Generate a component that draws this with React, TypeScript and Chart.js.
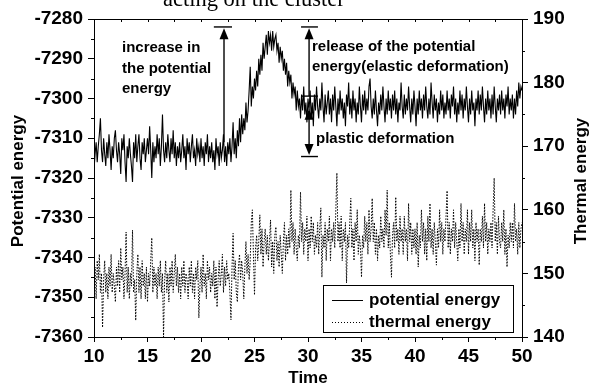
import React, { useEffect, useRef } from 'react';
import { Chart, registerables } from 'chart.js';
Chart.register(...registerables);

const FONT = '"Liberation Sans", Arial, Helvetica, sans-serif';

// sampling grid of the time axis
const T_START = 10;
const T_STEP = 0.1;

// Potential energy (left axis), one value every 0.1 time units from 10 to 50
const POTENTIAL = [
  -7318, -7314, -7311, -7316, -7312, -7309, -7305, -7313, -7316, -7310,
  -7314, -7317, -7311, -7315, -7309, -7313, -7318, -7312, -7315, -7310,
  -7308, -7313, -7316, -7311, -7314, -7319, -7310, -7313, -7309, -7316,
  -7321, -7312, -7315, -7310, -7314, -7317, -7321, -7311, -7315, -7309,
  -7316, -7312, -7309, -7315, -7318, -7311, -7314, -7310, -7316, -7313,
  -7310, -7314, -7307, -7313, -7320, -7311, -7316, -7312, -7315, -7309,
  -7314, -7310, -7317, -7312, -7304, -7313, -7316, -7311, -7315, -7309,
  -7313, -7316, -7310, -7314, -7308, -7315, -7311, -7317, -7312, -7315,
  -7311, -7316, -7313, -7309, -7315, -7312, -7318, -7310, -7314, -7311,
  -7316, -7312, -7309, -7315, -7313, -7317, -7310, -7314, -7312, -7316,
  -7310, -7315, -7312, -7317, -7311, -7314, -7309, -7316, -7312, -7315,
  -7311, -7316, -7313, -7318, -7310, -7314, -7312, -7317, -7311, -7315,
  -7313, -7309, -7316, -7312, -7317, -7311, -7314, -7310, -7316, -7312,
  -7306, -7314, -7310, -7315, -7308, -7312, -7305, -7311, -7304, -7309,
  -7305, -7308, -7301, -7306, -7303, -7298, -7292, -7302, -7297, -7300,
  -7295, -7298, -7293, -7297, -7290, -7294, -7289, -7293, -7286, -7290,
  -7287, -7284, -7289, -7283, -7286, -7284, -7288, -7283, -7287, -7285,
  -7284, -7288, -7286, -7291, -7287, -7290, -7288, -7293, -7290, -7294,
  -7291, -7297, -7293, -7296, -7294, -7300, -7296, -7299, -7297, -7303,
  -7298, -7302, -7300, -7305, -7299, -7303, -7297, -7304, -7301, -7306,
  -7300, -7303, -7298, -7305, -7301, -7307, -7299, -7303, -7297, -7302,
  -7305, -7300, -7303, -7296, -7302, -7306, -7299, -7304, -7301, -7298,
  -7304, -7300, -7306, -7299, -7303, -7297, -7302, -7307, -7300, -7304,
  -7298, -7303, -7300, -7305, -7301, -7307, -7299, -7302, -7296, -7304,
  -7300, -7305, -7298, -7303, -7300, -7306, -7301, -7304, -7297, -7302,
  -7306, -7299, -7303, -7298, -7304, -7300, -7303, -7297, -7295, -7302,
  -7305, -7300, -7304, -7298, -7303, -7307, -7301, -7304, -7299, -7303,
  -7297, -7302, -7306, -7300, -7304, -7298, -7303, -7300, -7305, -7299,
  -7303, -7298, -7304, -7300, -7306, -7301, -7303, -7296, -7302, -7305,
  -7299, -7304, -7300, -7303, -7297, -7302, -7306, -7300, -7304, -7298,
  -7302, -7307, -7300, -7304, -7298, -7303, -7300, -7305, -7299, -7303,
  -7297, -7302, -7305, -7300, -7304, -7296, -7301, -7305, -7299, -7303,
  -7300, -7306, -7301, -7304, -7298, -7303, -7299, -7305, -7301, -7304,
  -7298, -7303, -7300, -7305, -7299, -7302, -7297, -7304, -7300, -7306,
  -7301, -7304, -7298, -7303, -7299, -7305, -7300, -7303, -7297, -7302,
  -7306, -7300, -7304, -7298, -7303, -7301, -7307, -7300, -7303, -7298,
  -7304, -7299, -7303, -7297, -7302, -7306, -7300, -7304, -7298, -7303,
  -7300, -7305, -7299, -7304, -7297, -7302, -7306, -7300, -7303, -7299,
  -7304, -7298, -7303, -7300, -7305, -7299, -7302, -7297, -7304, -7300,
  -7303, -7299, -7305, -7300, -7304, -7298, -7302, -7296, -7300, -7297,
  -7298,
];

// Thermal energy (right axis), same sampling grid
const THERMAL = [
  148, 151, 146, 152, 149, 153, 147, 150, 141.5, 149,
  152, 147, 150, 146, 151, 148, 153, 147, 150, 148,
  145.5, 151, 148, 152, 147, 154, 149, 151, 146, 150,
  156.5, 147, 151, 146, 150, 148, 156.8, 147, 149, 142.6,
  150, 153, 147, 151, 146, 152, 148, 150, 146, 151,
  145.5, 150, 148, 152, 155.6, 147, 151, 148, 150, 146,
  151, 148, 152, 147, 150, 140, 149, 152, 147, 150,
  145.5, 151, 148, 152, 147, 150, 153, 148, 151, 147,
  150, 146, 151, 148, 152, 147, 150, 149, 146, 151,
  148, 152, 147, 150, 146, 151, 149, 152, 143, 148,
  151, 147, 153, 148, 150, 146, 152, 149, 151, 147,
  150, 148, 152, 146, 151, 144.7, 149, 152, 148, 150,
  153, 147, 151, 148, 152, 149, 150, 147, 142.7, 151,
  156.3, 149, 152, 147, 145.5, 151, 153, 149, 152, 150,
  146, 151, 155, 150, 153, 149, 152, 158, 160, 153,
  146.6, 154, 156, 152, 155, 159.2, 153, 157, 151, 155,
  157, 153, 156, 152, 155, 158.4, 151, 155, 150, 156,
  157.3, 152, 155, 151, 156, 153, 150, 155, 158, 152,
  156, 153, 157, 154, 163.1, 155, 158, 153, 157, 154,
  152, 156, 154, 162.8, 155, 158, 153, 157, 155, 159,
  152, 157, 154, 159, 155, 158, 153, 156, 154, 158,
  153, 157, 160.3, 149.4, 156, 154, 158, 152, 157, 155,
  159, 152, 157, 155, 158, 154, 160, 165.8, 155, 158,
  154, 159, 152, 157, 155, 158, 148.5, 156, 154, 158,
  161.8, 154, 157, 152, 158, 155, 160, 153, 156, 154,
  149.4, 156, 154, 159, 155, 158, 153, 160, 155, 157,
  161.8, 155, 158, 153, 157, 152, 156, 154, 159, 155,
  157, 154, 160, 156, 163.1, 154, 158, 153, 149.4, 156,
  158, 154, 162, 155, 157, 153, 159, 155, 157, 153,
  159, 155, 157, 152, 161, 155, 158, 153, 157, 154,
  157, 153, 158, 151, 156, 154, 160, 155, 158, 153,
  157, 152, 159, 155, 161, 154, 157, 153, 158, 155,
  151.3, 157, 154, 160, 155, 158, 153, 157, 155, 159,
  163, 154, 158, 153, 157, 155, 160, 154, 158, 155,
  152, 157, 154, 161, 155, 158, 153, 157, 155, 160,
  153, 158, 155, 160, 154, 157, 152, 158, 155, 157,
  151.3, 157, 155, 159, 154, 161, 155, 158, 153, 157,
  155, 158, 154, 160, 165, 155, 158, 153, 159, 155,
  154, 158, 155, 160, 153, 157, 151, 156, 154, 158,
  155, 158, 154, 161, 155, 157, 153, 158, 154, 157,
  158,
];

const X_MIN = 10, X_MAX = 50, X_STEP = 5, X_MINOR = 2.5;
const Y_MIN = -7360, Y_MAX = -7280, Y_STEP = 10, Y_MINOR = 5;
const Y2_MIN = 140, Y2_MAX = 190, Y2_STEP = 10, Y2_MINOR = 5;

const TITLE = 'acting on the cluster';
const X_TITLE = 'Time';
const Y_TITLE = 'Potential energy';
const Y2_TITLE = 'Thermal energy';
const LEGEND = ['potential energy', 'thermal energy'];

const NOTE_INCREASE = ['increase in', 'the potential', 'energy'];
const NOTE_RELEASE = ['release of the potential', 'energy(elastic deformation)'];
const NOTE_PLASTIC = 'plastic deformation';

// annotation arrows, in data units
const ARROW_INCREASE = { x: 22.15, from: -7311, to: -7282.3, capL: 21.2, capR: 22.9 };
const ARROW_RELEASE = { x: 30.1, from: -7299.4, to: -7282.3, capL: 29.35, capR: 30.93 };
const ARROW_PLASTIC = { x: 30.1, top: -7302.6, bottom: -7314.2, capY: -7314.6 };

const overlay = {
  id: 'overlay',
  afterDraw(chart: any) {
    const ctx: CanvasRenderingContext2D = chart.ctx;
    const { left, right, top, bottom } = chart.chartArea;
    const xs = chart.scales.x, ys = chart.scales.y, y2 = chart.scales.y2;
    ctx.save();
    ctx.strokeStyle = '#000';
    ctx.fillStyle = '#000';
    ctx.lineWidth = 1;
    const seg = (x1: number, y1: number, x2: number, y2_: number) => {
      ctx.beginPath(); ctx.moveTo(x1, y1); ctx.lineTo(x2, y2_); ctx.stroke();
    };
    // top border
    seg(left, Math.round(top) + 0.5, right, Math.round(top) + 0.5);
    // minor ticks + top inward ticks
    for (let v = X_MIN; v <= X_MAX + 1e-6; v += X_MINOR) {
      const px = Math.round(xs.getPixelForValue(v)) + 0.5;
      const major = Math.abs(v / X_STEP - Math.round(v / X_STEP)) < 1e-6;
      if (!major) seg(px, bottom, px, bottom + 3);
      seg(px, top, px, top + 3);
    }
    for (let v = Y_MIN; v <= Y_MAX + 1e-6; v += Y_MINOR) {
      const major = Math.abs(v / Y_STEP - Math.round(v / Y_STEP)) < 1e-6;
      if (major) continue;
      const py = Math.round(ys.getPixelForValue(v)) + 0.5;
      seg(left - 3, py, left, py);
    }
    for (let v = Y2_MIN; v <= Y2_MAX + 1e-6; v += Y2_MINOR) {
      const major = Math.abs(v / Y2_STEP - Math.round(v / Y2_STEP)) < 1e-6;
      if (major) continue;
      const py = Math.round(y2.getPixelForValue(v)) + 0.5;
      seg(right, py, right + 3, py);
    }

    // arrows
    const head = (x: number, tipY: number, dir: number) => {
      ctx.beginPath();
      ctx.moveTo(x, tipY);
      ctx.lineTo(x - 4.5, tipY - dir * 11);
      ctx.lineTo(x + 4.5, tipY - dir * 11);
      ctx.closePath();
      ctx.fill();
    };
    ctx.lineWidth = 1.4;
    {
      const a = ARROW_INCREASE;
      const x = xs.getPixelForValue(a.x);
      const yFrom = ys.getPixelForValue(a.from), yTo = ys.getPixelForValue(a.to);
      seg(x, yFrom, x, yTo + 8);
      head(x, yTo, -1);
      const cy = ys.getPixelForValue(-7282);
      seg(xs.getPixelForValue(a.capL), cy, xs.getPixelForValue(a.capR), cy);
    }
    {
      const a = ARROW_RELEASE;
      const x = xs.getPixelForValue(a.x);
      const yFrom = ys.getPixelForValue(a.from), yTo = ys.getPixelForValue(a.to);
      seg(x, yFrom, x, yTo + 8);
      head(x, yTo, -1);
      const cy = ys.getPixelForValue(-7282);
      seg(xs.getPixelForValue(a.capL), cy, xs.getPixelForValue(a.capR), cy);
      seg(xs.getPixelForValue(a.capL), yFrom, xs.getPixelForValue(a.capR), yFrom);
    }
    {
      const a = ARROW_PLASTIC;
      const x = xs.getPixelForValue(a.x);
      const yT = ys.getPixelForValue(a.top), yB = ys.getPixelForValue(a.bottom);
      seg(x, yT + 8, x, yB - 8);
      head(x, yT, -1);
      head(x, yB, 1);
      const cy = ys.getPixelForValue(a.capY);
      seg(xs.getPixelForValue(29.35), cy, xs.getPixelForValue(30.93), cy);
    }

    // annotation texts
    ctx.font = `bold 15px ${FONT}`;
    ctx.textBaseline = 'middle';
    ctx.textAlign = 'left';
    NOTE_INCREASE.forEach((t, i) => ctx.fillText(t, 122, 48 + i * 20.5));
    NOTE_RELEASE.forEach((t, i) => ctx.fillText(t, 312, 47 + i * 20));
    ctx.fillText(NOTE_PLASTIC, 316, 139);

    // legend
    ctx.lineWidth = 1;
    ctx.fillStyle = '#fff';
    ctx.fillRect(323, 285, 190, 47);
    ctx.strokeRect(323.5, 285.5, 190, 47);
    ctx.fillStyle = '#000';
    seg(332, 300.5, 363, 300.5);
    ctx.setLineDash([1, 2]);
    seg(332, 322.5, 363, 322.5);
    ctx.setLineDash([]);
    ctx.font = `bold 17px ${FONT}`;
    ctx.fillText(LEGEND[0], 369, 300);
    ctx.fillText(LEGEND[1], 369, 322);

    // axis titles
    ctx.textAlign = 'center';
    ctx.font = `bold 17px ${FONT}`;
    ctx.fillText(X_TITLE, (left + right) / 2, 378);
    ctx.save();
    ctx.translate(18.5, 181);
    ctx.rotate(-Math.PI / 2);
    ctx.fillText(Y_TITLE, 0, 0);
    ctx.restore();
    ctx.save();
    ctx.translate(581, 181);
    ctx.rotate(-Math.PI / 2);
    ctx.fillText(Y2_TITLE, 0, 0);
    ctx.restore();

    // partially visible chart title
    ctx.textAlign = 'left';
    ctx.textBaseline = 'alphabetic';
    ctx.font = `22.5px "Liberation Serif", "Times New Roman", serif`;
    ctx.fillText(TITLE, 163, 6);
    ctx.restore();
  },
};

export default function App() {
  const ref = useRef<HTMLCanvasElement>(null);
  useEffect(() => {
    const tickFont = { family: FONT, size: 19, weight: 'bold' as const };
    const plain = (v: any) => String(v);
    const potentialPts = POTENTIAL.map((v, i) => ({ x: T_START + i * T_STEP, y: v }));
    const thermalPts = THERMAL.map((v, i) => ({ x: T_START + i * T_STEP, y: v }));
    const chart = new Chart(ref.current!, {
      type: 'line',
      data: {
        datasets: [
          {
            label: LEGEND[0],
            data: potentialPts,
            yAxisID: 'y',
            borderColor: '#000',
            borderWidth: 1.1,
            pointRadius: 0,
            tension: 0,
          },
          {
            label: LEGEND[1],
            data: thermalPts,
            yAxisID: 'y2',
            borderColor: '#000',
            borderWidth: 1,
            borderDash: [1.5, 1.5],
            pointRadius: 0,
            tension: 0,
          },
        ],
      },
      options: {
        responsive: false,
        animation: false,
        devicePixelRatio: 1,
        layout: { padding: { top: 19, left: 0, right: 0, bottom: 0 } },
        plugins: { legend: { display: false }, tooltip: { enabled: false }, title: { display: false } },
        scales: {
          x: {
            type: 'linear',
            position: 'bottom',
            min: X_MIN,
            max: X_MAX,
            afterFit: (s: any) => { s.height = 50; },
            ticks: { stepSize: X_STEP, font: tickFont, color: '#000', padding: 3, maxRotation: 0, autoSkip: false, callback: plain },
            grid: { drawOnChartArea: false, drawTicks: true, tickLength: 5, color: '#000', tickColor: '#000' },
            border: { display: true, color: '#000', width: 1 },
          },
          y: {
            type: 'linear',
            position: 'left',
            min: Y_MIN,
            max: Y_MAX,
            afterFit: (s: any) => { s.width = 94; },
            ticks: { stepSize: Y_STEP, font: tickFont, color: '#000', padding: 5, callback: plain },
            grid: { drawOnChartArea: false, drawTicks: true, tickLength: 6, color: '#000', tickColor: '#000' },
            border: { display: true, color: '#000', width: 1 },
          },
          y2: {
            type: 'linear',
            position: 'right',
            min: Y2_MIN,
            max: Y2_MAX,
            afterFit: (s: any) => { s.width = 67; },
            ticks: { stepSize: Y2_STEP, font: tickFont, color: '#000', padding: 5, callback: plain },
            grid: { drawOnChartArea: false, drawTicks: true, tickLength: 6, color: '#000', tickColor: '#000' },
            border: { display: true, color: '#000', width: 1 },
          },
        },
      },
      plugins: [overlay],
    });
    return () => chart.destroy();
  }, []);
  return (
    <div style={{ position: 'fixed', left: 0, top: 0, width: 589, height: 387, background: '#fff' }}>
      <canvas ref={ref} width={589} height={387} style={{ display: 'block', width: 589, height: 387 }} />
    </div>
  );
}
